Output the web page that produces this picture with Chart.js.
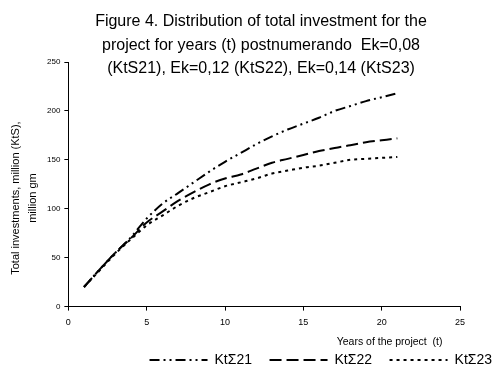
<!DOCTYPE html>
<html lang="en">
<head>
    <meta charset="UTF-8">
    <title>Figure 4. Distribution of total investment</title>
    <script src="https://cdn.jsdelivr.net/npm/chart.js"></script>
    <style>
        body {
            margin: 0;
            background: white;
        }
    </style>
</head>
<body>
    <canvas id="chart" width="494" height="367"></canvas>

    <script>
        const years = [1, 2, 3, 4, 5, 6, 7, 8, 9, 10, 11, 12, 13, 14, 15, 16, 17, 18, 19, 20, 21];
        const kt21 = [20, 38, 55, 71, 90, 105, 116, 127, 138, 148, 157, 166, 174, 181, 187, 193, 200, 205, 210, 214, 218];
        const kt22 = [20, 38, 55, 70, 86, 97, 108, 117, 125, 131, 135, 141, 147, 151, 155, 159, 162, 165, 168, 170, 172];
        const kt23 = [20, 37, 54, 69, 83, 93, 103, 111, 117, 123, 127, 131, 136, 139, 142, 144, 147, 150, 151, 152, 153];
        const titleLines = [
            'Figure 4. Distribution of total investment for the',
            'project for years (t) postnumerando  Ek=0,08',
            '(KtS21), Ek=0,12 (KtS22), Ek=0,14 (KtS23)'
        ];

        const FONT = '"Liberation Sans", Arial, sans-serif';

        const toPoints = vals => years.map((t, i) => ({ x: t, y: vals[i] }));

        // title is drawn by hand, it overlaps the top of the y axis like in the original
        const titlePlugin = {
            id: 'figTitle',
            afterDraw(chart) {
                const ctx = chart.ctx;
                ctx.save();
                ctx.fillStyle = '#000';
                ctx.font = '16px ' + FONT;
                ctx.textAlign = 'center';
                ctx.textBaseline = 'middle';
                titleLines.forEach((line, i) => {
                    ctx.fillText(line, 261, 22 + i * 23.5);
                });
                ctx.restore();
            }
        };

        const line = (label, vals, dash) => ({
            label: label,
            data: toPoints(vals),
            borderColor: '#000',
            backgroundColor: '#000',
            borderWidth: 2,
            borderDash: dash,
            pointRadius: 0,
            cubicInterpolationMode: 'monotone',
            fill: false
        });

        new Chart(document.getElementById('chart'), {
            type: 'line',
            data: {
                datasets: [
                    line('KtΣ21', kt21, [10, 4, 2, 4, 2, 4]),
                    line('KtΣ22', kt22, [12, 5]),
                    line('KtΣ23', kt23, [3, 4])
                ]
            },
            options: {
                responsive: false,
                animation: false,
                layout: {
                    // legend keeps 10px of empty space under itself, pull it off the canvas
                    padding: { top: 62, left: 6, right: 0, bottom: -10 }
                },
                scales: {
                    x: {
                        type: 'linear',
                        min: 0,
                        max: 25,
                        ticks: { stepSize: 5, color: '#000', font: { family: FONT, size: 9 }, padding: 7, maxRotation: 0 },
                        grid: { drawOnChartArea: false, color: '#000', tickLength: 4 },
                        border: { color: '#000', width: 1 },
                        title: {
                            display: true,
                            text: 'Years of the project  (t)      ',
                            align: 'end',
                            color: '#000',
                            font: { family: FONT, size: 10.5 },
                            padding: { top: 0, bottom: 3 }
                        }
                    },
                    y: {
                        min: 0,
                        max: 250,
                        ticks: { stepSize: 50, color: '#000', font: { family: FONT, size: 8 }, padding: 4 },
                        grid: { drawOnChartArea: false, color: '#000', tickLength: 4 },
                        border: { color: '#000', width: 1 },
                        title: {
                            display: true,
                            text: ['Total investments, million (KtS),         ', 'million gm         '],
                            color: '#000',
                            font: { family: FONT, size: 11, lineHeight: 1.5 },
                            padding: { top: 2, bottom: 2 }
                        }
                    },
                    // empty right axis, only keeps the plot clear of the right edge
                    yRight: {
                        type: 'linear',
                        position: 'right',
                        display: true,
                        grid: { display: false },
                        border: { display: false },
                        ticks: { display: false },
                        afterFit(scale) { scale.width = 34; }
                    }
                },
                plugins: {
                    legend: {
                        position: 'bottom',
                        align: 'end',
                        labels: {
                            usePointStyle: true,
                            pointStyle: 'line',
                            pointStyleWidth: 58,
                            color: '#000',
                            font: { family: FONT, size: 14 },
                            padding: 2,
                            generateLabels(chart) {
                                const items = Chart.defaults.plugins.legend.labels.generateLabels(chart);
                                items.forEach((it, i) => {
                                    const ds = chart.data.datasets[it.datasetIndex];
                                    it.lineDash = ds.borderDash;
                                    it.lineWidth = ds.borderWidth;
                                    it.strokeStyle = '#000';
                                    if (i < items.length - 1) it.text += '    ';
                                });
                                return items;
                            }
                        }
                    },
                    tooltip: { enabled: false }
                }
            },
            plugins: [titlePlugin]
        });
    </script>
</body>
</html>
